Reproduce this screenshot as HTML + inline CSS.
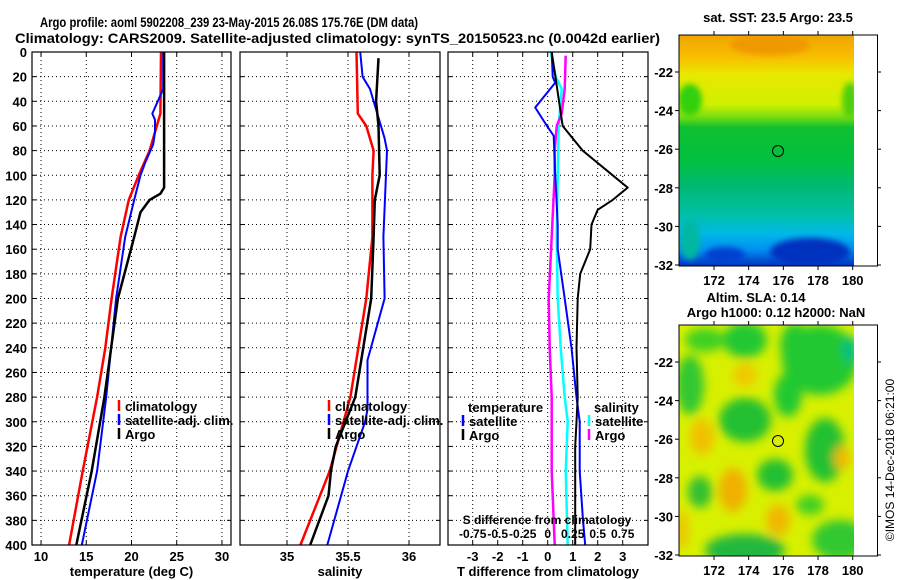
<!DOCTYPE html>
<html><head><meta charset="utf-8"><style>
html,body{margin:0;padding:0;background:#fff}
svg{display:block}
text{font-family:"Liberation Sans",sans-serif;font-weight:bold;fill:#000}
</style></head><body>
<svg id="fig" width="900" height="580" viewBox="0 0 900 580">
<text x="40" y="27" font-size="14" textLength="378" lengthAdjust="spacingAndGlyphs">Argo profile: aoml 5902208_239 23-May-2015 26.08S 175.76E (DM data)</text>
<text x="15" y="43" font-size="14" textLength="645" lengthAdjust="spacingAndGlyphs">Climatology: CARS2009. Satellite-adjusted climatology: synTS_20150523.nc (0.0042d earlier)</text>
<g id="panels"></g>
<defs>
<clipPath id="m1"><rect x="679" y="35" width="175" height="231"/></clipPath>
<clipPath id="m2"><rect x="679" y="325" width="175" height="231"/></clipPath>
<linearGradient id="sstg" x1="0" y1="0" x2="0" y2="1">
<stop offset="0" stop-color="#f0a400"/><stop offset="0.1" stop-color="#f8c000"/>
<stop offset="0.17" stop-color="#e8e800"/><stop offset="0.3" stop-color="#d0f000"/>
<stop offset="0.35" stop-color="#80e010"/><stop offset="0.4" stop-color="#10c030"/>
<stop offset="0.55" stop-color="#00c040"/><stop offset="0.65" stop-color="#00b870"/>
<stop offset="0.78" stop-color="#00c0a8"/><stop offset="0.86" stop-color="#00b8e8"/>
<stop offset="0.93" stop-color="#0090f0"/><stop offset="1" stop-color="#0030c0"/>
</linearGradient>
<filter id="bl" x="-20%" y="-20%" width="140%" height="140%"><feGaussianBlur stdDeviation="5"/></filter>
<filter id="bl2"><feGaussianBlur stdDeviation="3"/></filter>
</defs>
<g>
<text x="778" y="22" font-size="13" text-anchor="middle">sat. SST: 23.5 Argo: 23.5</text>
<g clip-path="url(#m1)">
<rect x="679" y="35" width="175" height="231" fill="url(#sstg)"/>
<g filter="url(#bl2)">
<ellipse cx="770" cy="45" rx="40" ry="10" fill="#f09800"/>
<ellipse cx="690" cy="100" rx="12" ry="16" fill="#30d010"/>
<ellipse cx="850" cy="100" rx="8" ry="18" fill="#50d010"/>
<ellipse cx="810" cy="252" rx="40" ry="14" fill="#0030c0"/>
<ellipse cx="725" cy="255" rx="20" ry="8" fill="#0040d0"/>
<ellipse cx="690" cy="240" rx="10" ry="20" fill="#00b8a0"/>
</g></g>
<rect x="679" y="35" width="198.5" height="231" fill="none" stroke="#000" stroke-width="1"/>
<circle cx="778" cy="151" r="5.5" fill="none" stroke="#000"/>
</g>
<g>
<text x="756" y="302" font-size="13" text-anchor="middle">Altim. SLA: 0.14</text>
<text x="776" y="317" font-size="13" text-anchor="middle">Argo h1000: 0.12 h2000: NaN</text>
<g clip-path="url(#m2)">
<rect x="679" y="325" width="175" height="231" fill="#d8f000"/>
<g filter="url(#bl)">
<ellipse cx="745" cy="340" rx="22" ry="18" fill="#20c830"/>
<ellipse cx="705" cy="340" rx="20" ry="12" fill="#40d020"/>
<ellipse cx="820" cy="360" rx="38" ry="35" fill="#20c830"/>
<ellipse cx="795" cy="345" rx="15" ry="22" fill="#20c830"/>
<ellipse cx="788" cy="395" rx="14" ry="22" fill="#20c830"/>
<ellipse cx="690" cy="385" rx="14" ry="30" fill="#30c830"/>
<ellipse cx="745" cy="420" rx="26" ry="22" fill="#20c030"/>
<ellipse cx="775" cy="475" rx="18" ry="16" fill="#20c030"/>
<ellipse cx="700" cy="492" rx="12" ry="16" fill="#30c030"/>
<ellipse cx="825" cy="450" rx="20" ry="32" fill="#20c030"/>
<ellipse cx="745" cy="550" rx="40" ry="16" fill="#20b840"/>
<ellipse cx="840" cy="540" rx="28" ry="20" fill="#30c830"/>
<ellipse cx="850" cy="350" rx="8" ry="14" fill="#00c080"/>
<ellipse cx="810" cy="505" rx="14" ry="10" fill="#40d020"/>
<ellipse cx="702" cy="437" rx="12" ry="18" fill="#f0c000"/>
<ellipse cx="733" cy="490" rx="14" ry="22" fill="#f0b000"/>
<ellipse cx="745" cy="375" rx="12" ry="12" fill="#f0c800"/>
<ellipse cx="778" cy="520" rx="12" ry="16" fill="#f0b800"/>
<ellipse cx="842" cy="458" rx="8" ry="12" fill="#f0b800"/>
<ellipse cx="682" cy="530" rx="6" ry="20" fill="#f0c000"/>
</g></g>
<rect x="679" y="325" width="198.5" height="231" fill="none" stroke="#000" stroke-width="1"/>
<circle cx="778" cy="441" r="5.5" fill="none" stroke="#000"/>
</g>
<rect x="854" y="36" width="23" height="229" fill="#fff"/>
<rect x="854" y="326" width="23" height="229" fill="#fff"/>
<text transform="translate(894,460) rotate(-90)" font-size="12" text-anchor="middle" style="font-weight:normal">©IMOS 14-Dec-2018 06:21:00</text>
<g id="mapaxes"></g>
</svg>
<script>
// ---- data ----
const depthTicks=[0,20,40,60,80,100,120,140,160,180,200,220,240,260,280,300,320,340,360,380,400];
const tempTicks=[10,15,20,25,30];
const salTicks=[35,35.5,36];
const diffTTicks=[-3,-2,-1,0,1,2,3];
const diffSTicks=[-0.75,-0.5,-0.25,0,0.25,0.5,0.75];
const diffSLabels=["-0.75","-0.5","-0.25","0","0.25","0.5","0.75"];

const tClimDepth=[0,50,70,80,100,120,150,200,240,280,340,400];
const tClim=[23.26,23.2,22.4,22.0,20.8,19.7,18.8,17.8,17.1,16.2,14.6,13.1];
const tSatDepth=[0,30,50,55,65,75,90,100,120,150,200,280,340,400];
const tSat=[23.5,23.5,22.3,22.6,22.6,22.4,21.5,21.0,20.3,19.3,18.3,17.2,16.2,14.5];
const tArgoDepth=[0,110,115,120,130,150,200,280,340,400];
const tArgo=[23.6,23.6,23.2,22.0,21.0,20.3,18.5,17.0,15.6,13.9];

const sClimDepth=[0,50,60,80,100,150,200,280,340,400];
const sClim=[35.57,35.58,35.65,35.71,35.7,35.7,35.65,35.52,35.35,35.11];
const sSatDepth=[0,20,30,50,70,80,150,200,250,290,300,340,400];
const sSat=[35.6,35.62,35.68,35.74,35.8,35.82,35.79,35.8,35.66,35.66,35.64,35.5,35.33];
const sArgoDepth=[5,40,60,100,120,150,200,280,320,340,360,400];
const sArgo=[35.75,35.73,35.75,35.76,35.72,35.71,35.69,35.56,35.4,35.36,35.34,35.19];

const dTArgoDepth=[0,19,60,80,100,110,120,128,140,160,180,200,240,280,300,320,360,400];
const dTArgo=[0.16,0.3,0.6,1.4,2.6,3.2,2.6,2.0,1.75,1.7,1.3,1.2,1.15,1.2,1.15,1.1,1.1,1.1];
const dTSatDepth=[0,20,25,45,60,68,100,120,140,160,200,240,280,300,340,380,400];
const dTSat=[0.16,0.2,0.3,-0.5,-0.03,0.24,0.3,0.35,0.4,0.4,0.68,0.95,1.15,1.28,1.28,1.41,1.5];
const dSSatDepth=[0,20,30,60,100,150,200,240,280,300,340,400];
const dSSat=[0.03,0.08,0.14,0.11,0.1,0.09,0.1,0.13,0.17,0.2,0.18,0.2];
const dSArgoDepth=[3,30,50,60,80,100,150,200,240,280,300,340,360,400];
const dSArgo=[0.18,0.17,0.14,0.09,0.07,0.07,0.04,0.01,0.02,0.04,0.04,0.04,0.05,0.07];

const mapLonTicks=[172,174,176,178,180];
const mapLatTicks=[-22,-24,-26,-28,-30,-32];

// ---- helpers ----
const NS="http://www.w3.org/2000/svg";
const Y0=52,Y1=545;
const yD=d=>Y0+(Y1-Y0)*d/400;
function mk(tag,attrs,parent){const e=document.createElementNS(NS,tag);for(const k in attrs)e.setAttribute(k,attrs[k]);parent.appendChild(e);return e;}
const root=document.getElementById('panels');
const panels=[
 {name:'temperature',x0:32,x1:231,xs:v=>32+(v-9)*199/22,ticks:tempTicks,labels:tempTicks.map(String),title:'temperature (deg C)'},
 {name:'salinity',x0:240,x1:440,xs:v=>287+(v-35)*122,ticks:salTicks,labels:["35","35.5","36"],title:'salinity'},
 {name:'difference',x0:448,x1:648,xs:v=>547.7+25*v,ticks:diffTTicks,labels:diffTTicks.map(String),title:'T difference from climatology'}
];
panels.forEach((p,pi)=>{
 const g=mk('g',{},root);
 
 
 depthTicks.forEach(d=>{
  if(d>0&&d<400){const l=mk('line',{x1:p.x0,x2:p.x1,y1:yD(d),y2:yD(d),stroke:'#000','stroke-width':1,'stroke-dasharray':'1,3'},g);
  }
  mk('line',{x1:p.x0,x2:p.x0+4,y1:yD(d),y2:yD(d),stroke:'#000'},g);
  mk('line',{x1:p.x1,x2:p.x1-4,y1:yD(d),y2:yD(d),stroke:'#000'},g);
  if(pi===0){const t=mk('text',{x:27,y:yD(d)+5,'font-size':13,'text-anchor':'end'},g);t.textContent=d;
   }
 });
 p.ticks.forEach((v,i)=>{
  const x=p.xs(v);
  const l=mk('line',{x1:x,x2:x,y1:Y0,y2:Y1,stroke:'#000','stroke-dasharray':'1,3'},g);
  
  mk('line',{x1:x,x2:x,y1:Y1,y2:Y1-4,stroke:'#000'},g);
  mk('line',{x1:x,x2:x,y1:Y0,y2:Y0+4,stroke:'#000'},g);
  const t=mk('text',{x:x,y:561,'font-size':13,'text-anchor':'middle'},g);t.textContent=p.labels[i];
  
 });
 const t=mk('text',{x:(p.x0+p.x1)/2,y:576,'font-size':13,'text-anchor':'middle'},g);t.textContent=p.title;
 
 p.g=g;
});
function line(p,depths,vals,xs,color,w,name){
 const pts=depths.map((d,i)=>xs(vals[i]).toFixed(1)+','+yD(d).toFixed(1)).join(' ');
 const e=mk('polyline',{points:pts,fill:'none',stroke:color,'stroke-width':w,'stroke-linejoin':'round'},p.g);
 
 
}
const P=panels;
line(P[0],tClimDepth,tClim,P[0].xs,'#f00',2.5,'temp-climatology-line');
line(P[0],tSatDepth,tSat,P[0].xs,'#00f',2,'temp-satellite-line');
line(P[0],tArgoDepth,tArgo,P[0].xs,'#000',2.5,'temp-argo-line');
line(P[1],sClimDepth,sClim,P[1].xs,'#f00',2.5,'sal-climatology-line');
line(P[1],sSatDepth,sSat,P[1].xs,'#00f',2,'sal-satellite-line');
line(P[1],sArgoDepth,sArgo,P[1].xs,'#000',2.5,'sal-argo-line');
const xsS=v=>547.7+100*v;
line(P[2],dSSatDepth,dSSat,xsS,'#0ff',2.5,'dsal-satellite-line');
line(P[2],dSArgoDepth,dSArgo,xsS,'#f0f',2.5,'dsal-argo-line');
line(P[2],dTSatDepth,dTSat,P[2].xs,'#00f',2,'dtemp-satellite-line');
line(P[2],dTArgoDepth,dTArgo,P[2].xs,'#000',2,'dtemp-argo-line');
diffSTicks.forEach((v,i)=>{const t=mk('text',{x:xsS(v),y:538,'font-size':12,'text-anchor':'middle'},P[2].g);t.textContent=diffSLabels[i];
 });
{const t=mk('text',{x:547,y:524,'font-size':12,'text-anchor':'middle'},P[2].g);t.textContent='S difference from climatology';
 }
panels.forEach(p=>{mk('rect',{x:p.x0,y:Y0,width:p.x1-p.x0,height:Y1-Y0,fill:'none',stroke:'#000','stroke-width':1.2},p.g);});
function leg(g,x,y,color,label,name){
 mk('line',{x1:x,x2:x,y1:y-11,y2:y,stroke:color,'stroke-width':2.5},g);
 const t=mk('text',{x:x+6,y:y,'font-size':13},g);t.textContent=label;
 
}
leg(P[0].g,119,411,'#f00','climatology','legend-climatology');
leg(P[0].g,119,425,'#00f','satellite-adj. clim.','legend-satellite');
leg(P[0].g,119,439,'#000','Argo','legend-argo');
leg(P[1].g,329,411,'#f00','climatology','legend-climatology');
leg(P[1].g,329,425,'#00f','satellite-adj. clim.','legend-satellite');
leg(P[1].g,329,439,'#000','Argo','legend-argo');
{const t=mk('text',{x:468,y:412,'font-size':13},P[2].g);t.textContent='temperature';}
{const t=mk('text',{x:594,y:412,'font-size':13},P[2].g);t.textContent='salinity';}
leg(P[2].g,463,426,'#00f','satellite','legend-t-satellite');
leg(P[2].g,463,440,'#000','Argo','legend-t-argo');
leg(P[2].g,589,426,'#0ff','satellite','legend-s-satellite');
leg(P[2].g,589,440,'#f0f','Argo','legend-s-argo');
const ma=document.getElementById('mapaxes');
[[35,72,265],[325,362,555]].forEach(([top,y22,y32],mi)=>{
 const bottom=top+231;
 const yl=v=>y22+(v+22)*(y32-y22)/(-10);
 const xl=v=>714+(v-172)*(852.7-714)/8;
 mapLonTicks.forEach(v=>{const x=xl(v);
  mk('line',{x1:x,x2:x,y1:bottom,y2:bottom+4,stroke:'#000'},ma);
  mk('line',{x1:x,x2:x,y1:top,y2:top-4,stroke:'#000'},ma);
  const t=mk('text',{x:x,y:bottom+19,'font-size':13,'text-anchor':'middle'},ma);t.textContent=v;
  });
 mapLatTicks.forEach(v=>{const y=yl(v);
  mk('line',{x1:679,x2:675,y1:y,y2:y,stroke:'#000'},ma);
  mk('line',{x1:877.5,x2:881,y1:y,y2:y,stroke:'#000'},ma);
  const t=mk('text',{x:673,y:y+5,'font-size':13,'text-anchor':'end'},ma);t.textContent=v;
  });
});
</script>
</body></html>
